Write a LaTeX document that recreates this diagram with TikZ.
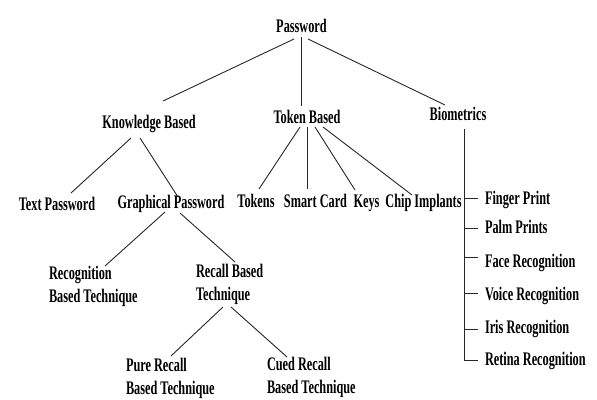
\documentclass[tikz,border=0pt]{standalone}
\usepackage{fontspec}
\newfontfamily\lab{Liberation Serif}[FakeStretch=0.64]
\tikzset{
  lbl/.style={font=\lab\bfseries\fontsize{19.2}{23}\selectfont, inner sep=0pt, outer sep=0pt, text=black},
  ln/.style={line width=0.9pt, draw=black!85},
}
\begin{document}
\begin{tikzpicture}[x=1pt,y=-1pt]
\useasboundingbox (0,0) rectangle (597,399);
% level 0-1
\node[lbl, anchor=base] (pw) at (301.5,32) {Password};
\node[lbl, anchor=base] (kb) at (149,128) {Knowledge Based};
\node[lbl, anchor=base] (tb) at (307,123) {Token Based};
\node[lbl, anchor=base] (bio) at (458,120) {Biometrics};
% level 2
\node[lbl, anchor=base] (tp) at (57,210) {Text Password};
\node[lbl, anchor=base] (gp) at (171,208) {Graphical Password};
\node[lbl, anchor=base] (tk) at (256,207) {Tokens};
\node[lbl, anchor=base] (sc) at (315.5,207) {Smart Card};
\node[lbl, anchor=base] (ky) at (366.5,207) {Keys};
\node[lbl, anchor=base] (ci) at (423.5,207) {Chip Implants};
% level 3-4 (base = baseline of last line)
\node[lbl, align=left, anchor=base west] (rbt) at (49,302) {Recognition\\Based Technique};
\node[lbl, align=left, anchor=base west] (rct) at (196,300) {Recall Based\\Technique};
\node[lbl, align=left, anchor=base west] (prt) at (126,394) {Pure Recall\\Based Technique};
\node[lbl, align=left, anchor=base west] (crt) at (267,393) {Cued Recall\\Based Technique};
% biometrics list
\node[lbl, anchor=base west] (fp) at (485,204) {Finger Print};
\node[lbl, anchor=base west] (pp) at (485,233) {Palm Prints};
\node[lbl, anchor=base west] (fr) at (485,267) {Face Recognition};
\node[lbl, anchor=base west] (vr) at (485,300) {Voice Recognition};
\node[lbl, anchor=base west] (ir) at (485,333) {Iris Recognition};
\node[lbl, anchor=base west] (rr) at (485,365) {Retina Recognition};
% connectors
\draw[ln] ([shift={(-7.5,7)}]pw.base) -- ([shift={(14,-27)}]kb.base);
\draw[ln] ([shift={(0,5)}]pw.base) -- ([shift={(-5.5,-17)}]tb.base);
\draw[ln] ([shift={(6.5,7)}]pw.base) -- ([shift={(-13,-15)}]bio.base);
\draw[ln] ([shift={(-18,10)}]kb.base) -- ([shift={(14,-17)}]tp.base);
\draw[ln] ([shift={(-9,10)}]kb.base) -- ([shift={(7,-11)}]gp.base);
\draw[ln] ([shift={(-7,4)}]tb.base) -- ([shift={(3,-18)}]tk.base);
\draw[ln] ([shift={(0,4)}]tb.base) -- ([shift={(-8.5,-18)}]sc.base);
\draw[ln] ([shift={(8,4)}]tb.base) -- ([shift={(-11.5,-17)}]ky.base);
\draw[ln] ([shift={(16,4)}]tb.base) -- ([shift={(-11.5,-12)}]ci.base);
\draw[ln] ([shift={(-6,4)}]gp.base) -- ([shift={(56,-36)}]rbt.base west);
\draw[ln] ([shift={(9,5)}]gp.base) -- ([shift={(39,-38)}]rct.base west);
\draw[ln] ([shift={(27,7)}]rct.base west) -- ([shift={(45,-38)}]prt.base west);
\draw[ln] ([shift={(35,7)}]rct.base west) -- ([shift={(20,-36)}]crt.base west);
% biometrics trunk and ticks
\draw[ln] ([shift={(6,9)}]bio.base) -- ([shift={(-21,-5)}]rr.base west);
\draw[ln] ([shift={(-21,-6)}]fp.base west) -- ([shift={(-7,-6)}]fp.base west);
\draw[ln] ([shift={(-21,-5)}]pp.base west) -- ([shift={(-7,-5)}]pp.base west);
\draw[ln] ([shift={(-21,-10)}]fr.base west) -- ([shift={(-7,-10)}]fr.base west);
\draw[ln] ([shift={(-21,-7)}]vr.base west) -- ([shift={(-7,-7)}]vr.base west);
\draw[ln] ([shift={(-21,-4)}]ir.base west) -- ([shift={(-7,-4)}]ir.base west);
\draw[ln] ([shift={(-21,-5)}]rr.base west) -- ([shift={(-7,-5)}]rr.base west);
\end{tikzpicture}
\end{document}
